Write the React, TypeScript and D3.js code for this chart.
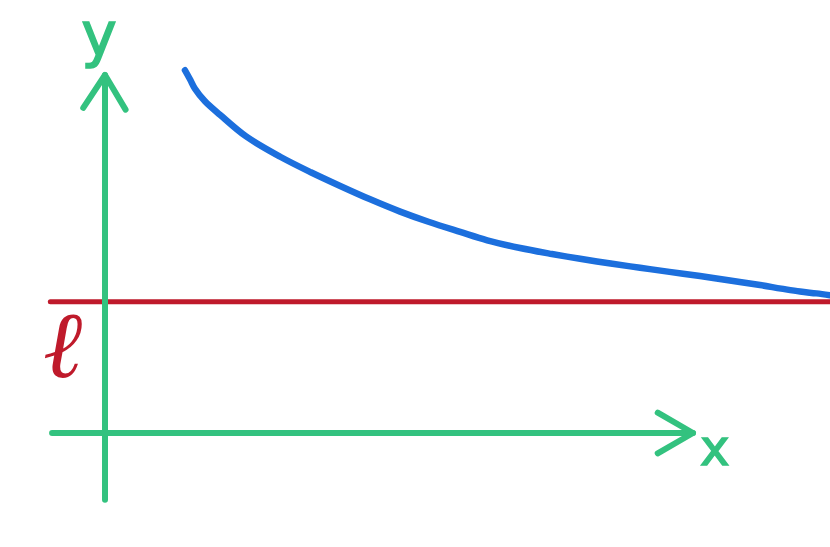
import React from "react";
import * as d3 from "d3";

const W = 830;
const H = 547;

// Curve y = f(x), sampled points in data units
const curveX = [1.36, 1.45, 1.53, 1.7, 1.96, 2.4, 2.98, 3.5, 4.0, 4.5, 5.02, 5.5, 6.04, 6.5, 7.06, 7.6, 8.08, 8.6, 9.1, 9.6, 10.12, 10.6, 11.14, 11.5, 11.82, 12.1, 12.33];
const curveY = [6.08, 5.92, 5.77, 5.56, 5.33, 4.97, 4.63, 4.37, 4.14, 3.92, 3.71, 3.54, 3.37, 3.23, 3.1, 3.0, 2.92, 2.84, 2.77, 2.7, 2.63, 2.56, 2.48, 2.42, 2.37, 2.34, 2.31];

// Asymptote l
const asymptoteY = 2.2;
const asymptoteX = [-0.93, 12.4];

// Axes extents
const xAxisExtent = [-0.9, 10.0];
const yAxisExtent = [-1.12, 6.0];

const labels = { x: "x", y: "y", l: "ℓ" };

const GREEN = "#33c27f";
const BLUE = "#1c6fdd";
const RED = "#bf1a2b";

export default function App() {
  const xs = d3.scaleLinear().domain([0, 10]).range([105, 693]);
  const ys = d3.scaleLinear().domain([0, 6]).range([433, 75]);

  const line = d3
    .line<[number, number]>()
    .x((d) => xs(d[0]))
    .y((d) => ys(d[1]))
    .curve(d3.curveCatmullRom.alpha(0.5));
  const straight = d3
    .line<[number, number]>()
    .x((d) => xs(d[0]))
    .y((d) => ys(d[1]));

  const curvePts: [number, number][] = curveX.map((x, i) => [x, curveY[i]]);

  const yTip: [number, number] = [0, yAxisExtent[1]];
  const yArrow: [number, number][] = [
    [-0.37, yAxisExtent[1] - 0.55],
    yTip,
    [0.35, yAxisExtent[1] - 0.58],
  ];
  const xTip: [number, number] = [xAxisExtent[1], 0];
  const xArrow: [number, number][] = [
    [xAxisExtent[1] - 0.6, 0.34],
    xTip,
    [xAxisExtent[1] - 0.6, -0.34],
  ];

  return (
    <div style={{ position: "fixed", left: 0, top: 0, width: W, height: H, background: "#fff" }}>
      <svg width={W} height={H} style={{ display: "block" }}>
        <rect width={W} height={H} fill="#ffffff" />
        {/* asymptote */}
        <path
          d={straight([[asymptoteX[0], asymptoteY], [asymptoteX[1], asymptoteY]]) || ""}
          stroke={RED}
          strokeWidth={5}
          fill="none"
          strokeLinecap="round"
        />
        {/* y axis */}
        <path
          d={straight([[0, yAxisExtent[0]], [0, yAxisExtent[1]]]) || ""}
          stroke={GREEN}
          strokeWidth={6}
          fill="none"
          strokeLinecap="round"
        />
        <path d={straight(yArrow) || ""} stroke={GREEN} strokeWidth={6} fill="none" strokeLinecap="round" strokeLinejoin="round" />
        {/* x axis */}
        <path
          d={straight([[xAxisExtent[0], 0], [xAxisExtent[1], 0]]) || ""}
          stroke={GREEN}
          strokeWidth={6}
          fill="none"
          strokeLinecap="round"
        />
        <path d={straight(xArrow) || ""} stroke={GREEN} strokeWidth={6} fill="none" strokeLinecap="round" strokeLinejoin="round" />
        {/* curve */}
        <path d={line(curvePts) || ""} stroke={BLUE} strokeWidth={6.5} fill="none" strokeLinecap="round" strokeLinejoin="round" />
        {/* labels */}
        <text
          x={xs(-0.1)}
          y={ys(6.33)}
          textAnchor="middle"
          fontFamily="DejaVu Sans, sans-serif"
          fontSize={60}
          fill={GREEN}
          stroke={GREEN}
          strokeWidth={1.5}
        >
          {labels.y}
        </text>
        <text
          x={xs(10.37)}
          y={ys(-0.54)}
          textAnchor="middle"
          fontFamily="DejaVu Sans, sans-serif"
          fontSize={50}
          fill={GREEN}
          stroke={GREEN}
          strokeWidth={1.5}
        >
          {labels.x}
        </text>
        <text
          x={xs(-0.72)}
          y={ys(asymptoteY) + 75}
          textAnchor="middle"
          fontFamily="DejaVu Serif, serif"
          fontStyle="italic"
          fontSize={94}
          fill={RED}
        >
          {labels.l}
        </text>
      </svg>
    </div>
  );
}
